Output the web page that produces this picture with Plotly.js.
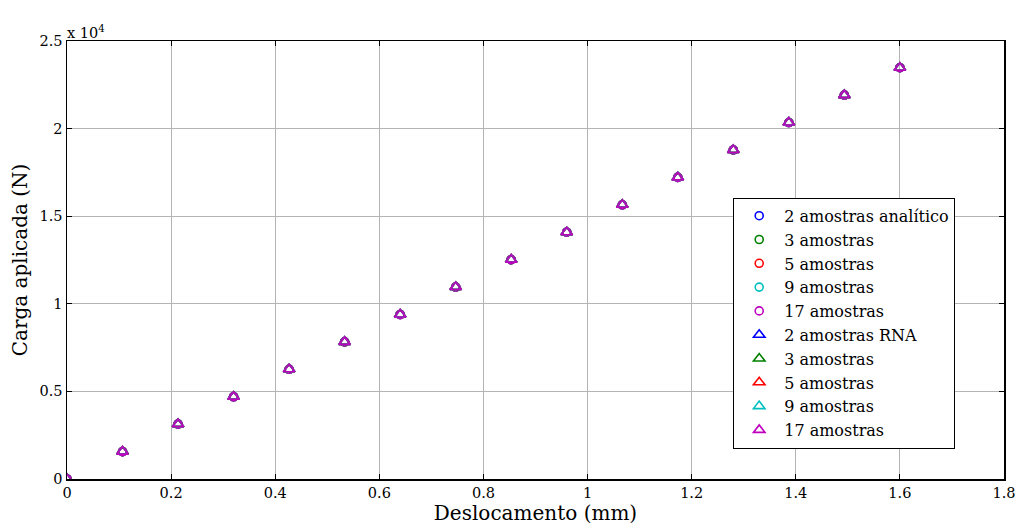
<!DOCTYPE html>
<html>
<head>
<meta charset="utf-8">
<script src="https://cdn.plot.ly/plotly-3.0.1.min.js"></script>
<style>html,body{margin:0;padding:0;background:#fff;}#chart{width:1017px;height:529px;}</style>
</head>
<body>
<div id="chart"></div>
<script>
// Deslocamento (mm)
var deslocamento = [0, 0.1067, 0.2133, 0.32, 0.4267, 0.5333, 0.64, 0.7467, 0.8533, 0.96, 1.0667, 1.1733, 1.28, 1.3867, 1.4933, 1.6];
// Carga aplicada (N) — analítico
var cargaAnalitico2  = [0, 1565, 3130, 4695, 6260, 7825, 9390, 10955, 12520, 14085, 15650, 17215, 18780, 20345, 21910, 23475];
var cargaAnalitico3  = [0, 1565, 3130, 4695, 6260, 7825, 9390, 10955, 12520, 14085, 15650, 17215, 18780, 20345, 21910, 23475];
var cargaAnalitico5  = [0, 1565, 3130, 4695, 6260, 7825, 9390, 10955, 12520, 14085, 15650, 17215, 18780, 20345, 21910, 23475];
var cargaAnalitico9  = [0, 1565, 3130, 4695, 6260, 7825, 9390, 10955, 12520, 14085, 15650, 17215, 18780, 20345, 21910, 23475];
var cargaAnalitico17 = [0, 1565, 3130, 4695, 6260, 7825, 9390, 10955, 12520, 14085, 15650, 17215, 18780, 20345, 21910, 23475];
// Carga aplicada (N) — RNA
var cargaRNA2  = [0, 1565, 3130, 4695, 6260, 7825, 9390, 10955, 12520, 14085, 15650, 17215, 18780, 20345, 21910, 23475];
var cargaRNA3  = [0, 1565, 3130, 4695, 6260, 7825, 9390, 10955, 12520, 14085, 15650, 17215, 18780, 20345, 21910, 23475];
var cargaRNA5  = [0, 1565, 3130, 4695, 6260, 7825, 9390, 10955, 12520, 14085, 15650, 17215, 18780, 20345, 21910, 23475];
var cargaRNA9  = [0, 1565, 3130, 4695, 6260, 7825, 9390, 10955, 12520, 14085, 15650, 17215, 18780, 20345, 21910, 23475];
var cargaRNA17 = [0, 1565, 3130, 4695, 6260, 7825, 9390, 10955, 12520, 14085, 15650, 17215, 18780, 20345, 21910, 23475];

var seriesNames = ['2 amostras analítico', '3 amostras', '5 amostras', '9 amostras', '17 amostras',
                   '2 amostras RNA', '3 amostras', '5 amostras', '9 amostras', '17 amostras'];
var xTickVals = [0, 0.2, 0.4, 0.6, 0.8, 1, 1.2, 1.4, 1.6, 1.8];
var xTickText = ['0', '0.2', '0.4', '0.6', '0.8', '1', '1.2', '1.4', '1.6', '1.8'];
var yTickVals = [0, 5000, 10000, 15000, 20000, 25000];
var yTickText = ['0', '0.5', '1', '1.5', '2', '2.5'];

var ySeries = [cargaAnalitico2, cargaAnalitico3, cargaAnalitico5, cargaAnalitico9, cargaAnalitico17,
               cargaRNA2, cargaRNA3, cargaRNA5, cargaRNA9, cargaRNA17];
var colors = ['#0000ff', '#008000', '#ff0000', '#00bfbf', '#bf00bf'];
var FONT = 'DejaVu Serif, serif';

var traces = ySeries.map(function (ys, i) {
  var tri = i >= 5;
  return {
    x: deslocamento, y: ys, name: seriesNames[i], type: 'scatter', mode: 'markers',
    marker: {
      symbol: tri ? 'triangle-up-open' : 'circle-open',
      size: tri ? 10 : 8,
      color: colors[i % 5],
      line: {width: 1.6, color: colors[i % 5]}
    }
  };
});

var axisCommon = {
  showline: true, linecolor: '#000', linewidth: 1.5, mirror: 'ticks',
  ticks: 'inside', ticklen: 5, tickcolor: '#000', tickwidth: 1,
  showgrid: true, gridcolor: '#b4b4b4', gridwidth: 1, zeroline: false,
  tickfont: {family: FONT, size: 14.5, color: '#000'}
};

var layout = {
  width: 1017, height: 529,
  margin: {l: 67, r: 13, t: 41, b: 50},
  paper_bgcolor: '#fff', plot_bgcolor: '#fff',
  font: {family: FONT, color: '#000'},
  xaxis: Object.assign({}, axisCommon, {
    range: [0, 1.8], tickmode: 'array', tickvals: xTickVals, ticktext: xTickText,
    title: {text: 'Deslocamento (mm)', font: {family: FONT, size: 20, color: '#000'}, standoff: 2}
  }),
  yaxis: Object.assign({}, axisCommon, {
    range: [0, 25000], tickmode: 'array', tickvals: yTickVals, ticktext: yTickText,
    title: {text: 'Carga aplicada (N)', font: {family: FONT, size: 20, color: '#000'}, standoff: 6}
  }),
  showlegend: true,
  legend: {
    x: 0.711, y: 0.642, xanchor: 'left', yanchor: 'top',
    bgcolor: '#fff', bordercolor: '#000', borderwidth: 1,
    font: {family: FONT, size: 16, color: '#000'},
    itemwidth: 40, tracegroupgap: 0
  },
  annotations: [{
    xref: 'paper', yref: 'paper', x: 0, y: 1, xanchor: 'left', yanchor: 'bottom',
    text: 'x 10<sup>4</sup>', showarrow: false, yshift: -2, xshift: -2,
    font: {family: FONT, size: 14.5, color: '#000'}
  }]
};

Plotly.newPlot('chart', traces, layout, {staticPlot: true});
</script>
</body>
</html>
